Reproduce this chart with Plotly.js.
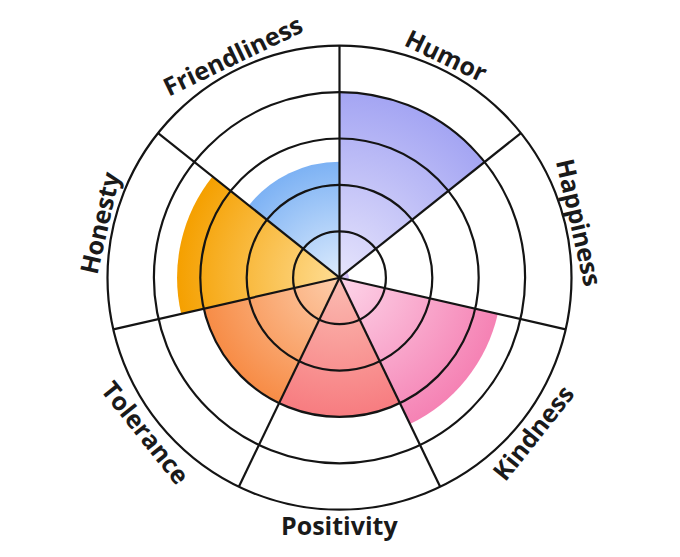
<!DOCTYPE html>
<html><head><meta charset="utf-8">
<script src="https://cdn.plot.ly/plotly-3.0.1.min.js"></script>
<style>html,body{margin:0;padding:0;background:#fff}</style>
</head><body>
<div id="chart" style="width:680px;height:557px"></div>
<script>
// ---- data ----
const categories = ['Humor', 'Happiness', 'Kindness', 'Positivity', 'Tolerance', 'Honesty', 'Friendliness'];
const values = [4, 0.2, 3.5, 3, 3, 3.5, 2.5];
const innerColors = ['#e6e4fc', '#e6dcfb', '#fdd5e9', '#fbbcb2', '#fdcdab', '#fedd94', '#dcebfd'];
const outerColors = ['#a4a5f3', '#c9b6f3', '#f582b4', '#f77c80', '#f78c46', '#f5a000', '#7db2f4'];
const radialTicks = [1, 2, 3, 4, 5];

// ---- layout geometry ----
const W = 680, H = 557, CX = 339.5, CY = 277.7, R = 232, LABEL_R = 247, RMAX = 5;
const domX = [(CX - R) / W, (CX + R) / W];
const domY = [(H - CY - R) / H, (H - CY + R) / H];
const n = categories.length, step = 360 / n;

const traces = [
  {type: 'barpolar', r: values, theta: categories, subplot: 'polar',
   marker: {color: outerColors, line: {width: 0}}, hoverinfo: 'skip', showlegend: false},
  {type: 'barpolar', r: values, theta: categories, subplot: 'polar2',
   marker: {color: 'rgba(0,0,0,0)', line: {width: 0}}, hoverinfo: 'skip', showlegend: false}
];

const annotations = categories.map((c, i) => {
  const a = (i + 0.5) * step;
  const rad = a * Math.PI / 180;
  const px = CX + LABEL_R * Math.sin(rad);
  const py = CY - LABEL_R * Math.cos(rad);
  let ta = (a > 90 && a < 270) ? a - 180 : (a >= 270 ? a - 360 : a);
  return {text: c, xref: 'paper', yref: 'paper', x: px / W, y: 1 - py / H,
          xanchor: 'center', yanchor: 'middle', showarrow: false, textangle: ta,
          font: {family: 'Open Sans, Noto Sans, sans-serif', size: 25, color: '#1a1a1a', weight: 700}};
});

const gridColor = '#141414';
const layout = {
  width: W, height: H, margin: {l: 0, r: 0, t: 0, b: 0},
  paper_bgcolor: '#ffffff', showlegend: false,
  polar: {
    domain: {x: domX, y: domY}, bgcolor: '#ffffff', bargap: 0,
    radialaxis: {range: [0, RMAX], showgrid: false, showline: false, showticklabels: false, ticks: ''},
    angularaxis: {type: 'category', categoryarray: categories, direction: 'clockwise',
                  rotation: 90 - step / 2, showgrid: false, showline: false, showticklabels: false, ticks: ''}
  },
  polar2: {
    domain: {x: domX, y: domY}, bgcolor: 'rgba(0,0,0,0)', bargap: 0,
    radialaxis: {range: [0, RMAX], tickvals: radialTicks, showgrid: true, gridcolor: gridColor, gridwidth: 2.2,
                 showline: false, showticklabels: false, ticks: ''},
    angularaxis: {type: 'category', categoryarray: categories, direction: 'clockwise', rotation: 90,
                  showgrid: true, gridcolor: gridColor, gridwidth: 2.2, showline: true, linecolor: gridColor,
                  linewidth: 2.2, showticklabels: false, ticks: ''}
  },
  annotations: annotations
};

const gd = document.getElementById('chart');
Plotly.newPlot(gd, traces, layout, {staticPlot: true, displayModeBar: false}).then(() => {
  try {
    const svgNS = 'http://www.w3.org/2000/svg';
    const mainSvg = gd.querySelector('svg.main-svg');
    let defs = mainSvg.querySelector('defs');
    if (!defs) { defs = document.createElementNS(svgNS, 'defs'); mainSvg.insertBefore(defs, mainSvg.firstChild); }
    const layer = gd.querySelector('.polarlayer g.polar .barlayer') || gd.querySelector('g.polar .barlayer');
    const pts = layer.querySelectorAll('g.point');
    const box = gd.getBoundingClientRect();
    pts.forEach((g, k) => {
      const path = g.querySelector('path');
      if (!path) return;
      const d = g.__data__ || path.__data__;
      const i = (d && typeof d.i === 'number') ? d.i : k;
      const inv = path.getScreenCTM().inverse();
      const p = mainSvg.createSVGPoint();
      p.x = box.left + CX; p.y = box.top + CY;
      const lp = p.matrixTransform(inv);
      const grad = document.createElementNS(svgNS, 'radialGradient');
      grad.setAttribute('id', 'barGrad' + i);
      grad.setAttribute('gradientUnits', 'userSpaceOnUse');
      grad.setAttribute('cx', lp.x); grad.setAttribute('cy', lp.y);
      grad.setAttribute('fx', lp.x); grad.setAttribute('fy', lp.y);
      grad.setAttribute('r', R * values[i] / RMAX);
      [[0, innerColors[i]], [1, outerColors[i]]].forEach(([o, c]) => {
        const s = document.createElementNS(svgNS, 'stop');
        s.setAttribute('offset', o); s.setAttribute('stop-color', c);
        grad.appendChild(s);
      });
      defs.appendChild(grad);
      path.style.fill = 'url(#barGrad' + i + ')';
    });
  } catch (e) { console.log(e); }
});
</script>
</body></html>
